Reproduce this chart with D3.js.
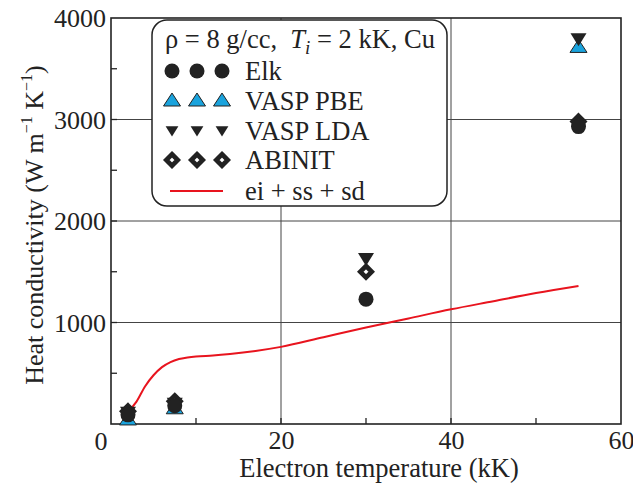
<!DOCTYPE html>
<html>
<head>
<meta charset="utf-8">
<script src="https://cdn.jsdelivr.net/npm/d3@7"></script>
<style>
body { margin: 0; background: #fff; }
svg, svg text { font-family: "Liberation Serif", "Times New Roman", serif; }
</style>
</head>
<body>
<svg width="633" height="484"></svg>
<script>
// data
var temps   = [2, 7.5, 30, 55];
var elk     = [90, 180, 1230, 2930];
var vaspPBE = [40, 150, null, 3710];
var vaspLDA = [110, 200, 1625, 3790];
var abinit  = [125, 225, 1500, 2980];

var modelT = [2, 3, 4, 5, 6, 7, 8, 9, 10, 12, 14, 17, 20, 25, 30, 35, 40, 45, 50, 55];
var modelK = [120, 220, 370, 480, 560, 610, 640, 655, 665, 675, 690, 720, 760, 855, 950, 1040, 1130, 1210, 1290, 1360];

var xTickLabels = [20, 40, 60];
var yTickLabels = [1000, 2000, 3000, 4000];
var xMinor = [10, 30, 50];
var yMinor = [500, 1500, 2500, 3500];

var legendNames = ["Elk", "VASP PBE", "VASP LDA", "ABINIT", "ei + ss + sd"];

var svg = d3.select("svg");
var blue = "#1aa3dd";
var red = "#e8141e";
var ink = "#222";

var x = d3.scaleLinear().domain([0, 60]).range([111, 621]);
var y = d3.scaleLinear().domain([0, 4000]).range([424, 18]);

// grid
var grid = svg.append("g").attr("stroke", "#444").attr("stroke-width", 1);
grid.selectAll("line.gx")
		.data(xTickLabels.filter(function(d) { return d < 60; }))
		.enter().append("line")
		.attr("x1", function(d) { return x(d); })
		.attr("x2", function(d) { return x(d); })
		.attr("y1", y(0)).attr("y2", y(4000));
grid.selectAll("line.gy")
		.data(yTickLabels.filter(function(d) { return d < 4000; }))
		.enter().append("line")
		.attr("x1", x(0)).attr("x2", x(60))
		.attr("y1", function(d) { return y(d); })
		.attr("y2", function(d) { return y(d); });

// ticks (inward)
var ticks = svg.append("g").attr("stroke", ink).attr("stroke-width", 1.3);
ticks.selectAll("line.tx")
		.data(xMinor.concat([20, 40]))
		.enter().append("line")
		.attr("x1", function(d) { return x(d); })
		.attr("x2", function(d) { return x(d); })
		.attr("y1", y(0)).attr("y2", y(0) - 6);
ticks.selectAll("line.ty")
		.data(yMinor.concat([1000, 2000, 3000]))
		.enter().append("line")
		.attr("x1", x(0)).attr("x2", x(0) + 6)
		.attr("y1", function(d) { return y(d); })
		.attr("y2", function(d) { return y(d); });

// tick labels through d3 axes
var xAxis = svg.append("g")
		.attr("transform", "translate(0," + y(0) + ")")
		.call(d3.axisBottom(x).tickValues(xTickLabels).tickFormat(d3.format("d")).tickSize(0).tickPadding(7));
var yAxis = svg.append("g")
		.attr("transform", "translate(" + x(0) + ",0)")
		.call(d3.axisLeft(y).tickValues(yTickLabels).tickFormat(d3.format("d")).tickSize(0).tickPadding(5));
[xAxis, yAxis].forEach(function(a) {
	a.attr("font-family", null).attr("font-size", null);
	a.select(".domain").remove();
	a.selectAll("text")
		.style("font-family", "'Liberation Serif', 'Times New Roman', serif")
		.attr("font-size", 26)
		.attr("fill", ink);
});
yAxis.selectAll("text").attr("dy", "0.34em");
xAxis.selectAll("text").attr("dy", "0.71em");

// shared zero in the corner
svg.append("text")
		.attr("x", x(0) - 10).attr("y", 450)
		.attr("text-anchor", "middle")
		.attr("font-size", 26).attr("fill", ink)
		.text("0");

// frame
svg.append("rect")
		.attr("x", x(0)).attr("y", y(4000))
		.attr("width", x(60) - x(0)).attr("height", y(0) - y(4000))
		.attr("fill", "none").attr("stroke", ink).attr("stroke-width", 1.6);

// titles
svg.append("text")
		.attr("x", 379).attr("y", 477)
		.attr("text-anchor", "middle")
		.attr("font-size", 26.5).attr("fill", ink)
		.text("Electron temperature (kK)");

var ylab = svg.append("text")
		.attr("transform", "translate(43,225) rotate(-90)")
		.attr("text-anchor", "middle")
		.attr("font-size", 26).attr("fill", ink);
ylab.append("tspan").text("Heat conductivity (W m");
ylab.append("tspan").attr("font-size", 16).attr("dy", -11).text("\u22121");
ylab.append("tspan").attr("dy", 11).text(" K");
ylab.append("tspan").attr("font-size", 16).attr("dy", -11).text("\u22121");
ylab.append("tspan").attr("dy", 11).text(")");

// model curve
var line = d3.line()
		.x(function(d) { return x(d[0]); })
		.y(function(d) { return y(d[1]); })
		.curve(d3.curveMonotoneX);
svg.append("path")
		.datum(modelT.map(function(t, i) { return [t, modelK[i]]; }))
		.attr("d", line)
		.attr("fill", "none").attr("stroke", red).attr("stroke-width", 2);

// marker shapes
function upTri(g) {
	return g.append("path").attr("d", "M0,-8L8.5,5L-8.5,5Z")
		.attr("fill", blue).attr("stroke", ink).attr("stroke-width", 1);
}
function downTri(g, s) {
	s = s || 1;
	return g.append("path").attr("d", "M" + (-8 * s) + "," + (-6 * s) + "L" + (8 * s) + "," + (-6 * s) + "L0," + (7 * s) + "Z")
		.attr("fill", ink);
}
function diamond(g) {
	return g.append("path").attr("d", "M0,-5.75L5.75,0L0,5.75L-5.75,0Z")
		.attr("fill", "#fff").attr("stroke", ink).attr("stroke-width", 4.6)
		.attr("stroke-linejoin", "miter");
}
function dot(g) {
	return g.append("circle").attr("r", 7.5).attr("fill", ink);
}

function drawSeries(vals, shape) {
	var pts = temps.map(function(t, i) { return [t, vals[i]]; })
		.filter(function(d) { return d[1] != null; });
	svg.append("g").selectAll("g")
		.data(pts)
		.enter().append("g")
		.attr("transform", function(d) { return "translate(" + x(d[0]) + "," + y(d[1]) + ")"; })
		.each(function() { shape(d3.select(this)); });
}
drawSeries(vaspPBE, upTri);
drawSeries(vaspLDA, downTri);
drawSeries(abinit, diamond);
drawSeries(elk, dot);

// legend
var leg = svg.append("g");
leg.append("rect")
		.attr("x", 152).attr("y", 20)
		.attr("width", 295).attr("height", 186)
		.attr("rx", 15).attr("ry", 15)
		.attr("fill", "#fff").attr("stroke", ink).attr("stroke-width", 1.5);

var head = leg.append("text")
		.attr("x", 165).attr("y", 48)
		.attr("font-size", 26.5).attr("fill", ink)
		.attr("xml:space", "preserve");
head.append("tspan").text("\u03c1 = 8 g/cc,\u00a0\u00a0");
head.append("tspan").attr("font-style", "italic").text("T");
head.append("tspan").attr("font-style", "italic").attr("font-size", 19).attr("dy", 6).text("i");
head.append("tspan").attr("dy", -6).text(" = 2 kK, Cu");

var rowY = [71, 101, 131, 160, 191];
var shapes = [dot, upTri, function(g) { return downTri(g, 0.8); }, diamond];
legendNames.forEach(function(name, i) {
	var row = leg.append("g").attr("transform", "translate(0," + rowY[i] + ")");
	if (i < 4) {
		[172, 197, 222].forEach(function(cx) {
			shapes[i](row.append("g").attr("transform", "translate(" + cx + ",0)"));
		});
	} else {
		row.append("line").attr("x1", 170).attr("x2", 223)
			.attr("stroke", red).attr("stroke-width", 2);
	}
	row.append("text")
		.attr("x", 245).attr("dy", "0.33em")
		.attr("font-size", 26.5).attr("fill", ink)
		.text(name);
});
</script>
</body>
</html>
